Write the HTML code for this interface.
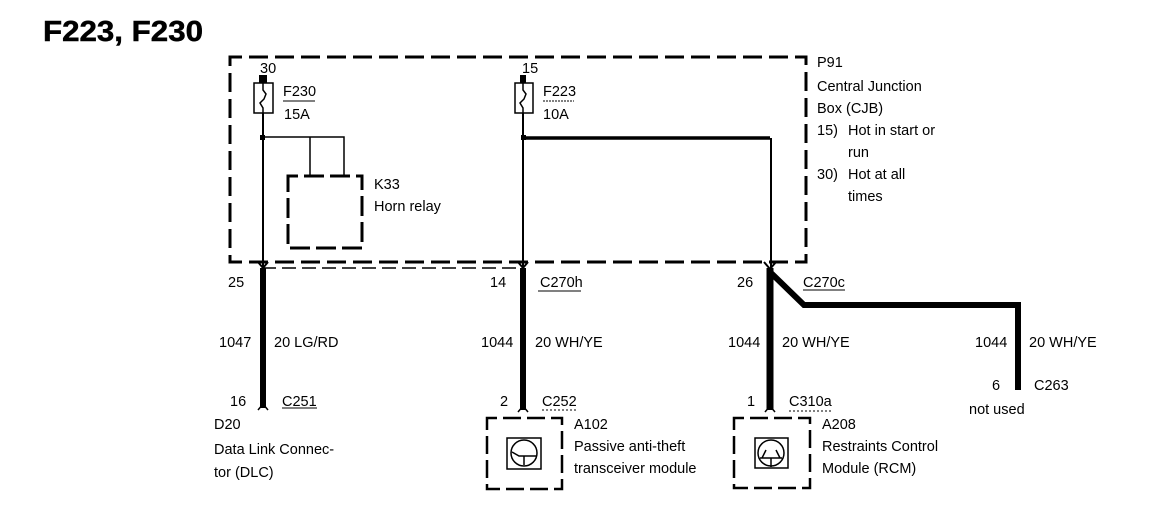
<!DOCTYPE html>
<html><head><meta charset="utf-8"><style>
html,body{margin:0;padding:0;background:#fff;width:1152px;height:520px;overflow:hidden}
svg{display:block}
text{font-family:"Liberation Sans",sans-serif;font-size:14.5px;fill:#000}
</style></head><body>
<svg width="1152" height="520" viewBox="0 0 1152 520" xmlns="http://www.w3.org/2000/svg">
<text x="43" y="41" textLength="160" lengthAdjust="spacingAndGlyphs" style="font-size:29px;font-weight:bold;stroke:#000;stroke-width:.5">F223, F230</text>
<g fill="none" stroke="#000">
<rect x="230" y="57" width="576" height="205" stroke-width="3" stroke-dasharray="19 7" stroke-dashoffset="7"/>
<path d="M262 268H523" stroke-width="1.5" stroke-dasharray="14 6"/>
<rect x="288" y="176" width="74" height="72" stroke-width="3" stroke-dasharray="20 6" stroke-dashoffset="10"/>
<rect x="487" y="418" width="75" height="71" stroke-width="2.5" stroke-dasharray="18 6" stroke-dashoffset="8"/>
<rect x="734" y="418" width="76" height="70" stroke-width="2.5" stroke-dasharray="18 6" stroke-dashoffset="8"/>
<rect x="254" y="83" width="19" height="30" stroke-width="1.5"/>
<rect x="515" y="83" width="18" height="30" stroke-width="1.5"/>
<path d="M263 113V268" stroke-width="2"/>
<path d="M523 113V268" stroke-width="2"/>
<path d="M263 137H344V176M310 137V176" stroke-width="1.5"/>
<path d="M523 138H770" stroke-width="3.5"/>
<path d="M771 138V268" stroke-width="2"/>
<path d="M263 268V408" stroke-width="6"/>
<path d="M523 268V410" stroke-width="6"/>
<path d="M770 268V410" stroke-width="7"/>
<path d="M770 272L804 305H1018V390" stroke-width="6"/>
<path d="M263 83V90L266 94L264 99L260 103L263 108V113" stroke-width="1.5"/>
<path d="M523 83V90L526 94L524 99L520 103L523 108V113" stroke-width="1.5"/>
<path d="M283 101H315" stroke-width="1"/>
<path d="M543 101H574" stroke-width="1" stroke-dasharray="2 1"/>
<path d="M538 291H581M282 408H317M803 290H845" stroke-width="1"/>
<path d="M542 410H576M789 411H832" stroke-width="1" stroke-dasharray="2 2"/>
<rect x="507" y="438" width="34" height="31" stroke-width="1.5"/>
<circle cx="524" cy="453" r="13" stroke-width="1.5"/>
<path d="M512 452L519 456H536M524 456V465" stroke-width="1.5"/>
<rect x="755" y="438" width="33" height="30" stroke-width="1.5"/>
<circle cx="771" cy="453" r="13" stroke-width="1.5"/>
<path d="M760 458H782M771 458V467M762 458L766 450M780 458L776 450" stroke-width="1.5"/>
<path d="M258 262L263 268L268 262M518 262L523 268L528 262M764 262L770 269L776 262" stroke-width="2"/>
<path d="M258 410L263 404L268 410M518 412L523 406L528 412M765 412L770 406L775 412" stroke-width="1.5"/>
</g>
<rect x="259" y="75" width="8" height="8"/>
<rect x="520" y="75" width="6" height="8"/>
<rect x="260" y="135" width="5" height="5"/>
<rect x="521" y="135" width="5" height="5"/>
<g transform="translate(0 1)">
<text x="260" y="72">30</text>
<text x="522" y="72">15</text>
<text x="283" y="95">F230</text>
<text x="284" y="118">15A</text>
<text x="543" y="95">F223</text>
<text x="543" y="118">10A</text>
<text x="374" y="188">K33</text>
<text x="374" y="210">Horn relay</text>
<text x="817" y="66">P91</text>
<text x="817" y="90">Central Junction</text>
<text x="817" y="112">Box (CJB)</text>
<text x="817" y="134">15)</text><text x="848" y="134">Hot in start or</text>
<text x="848" y="156">run</text>
<text x="817" y="178">30)</text><text x="848" y="178">Hot at all</text>
<text x="848" y="200">times</text>
<text x="228" y="286">25</text>
<text x="490" y="286">14</text>
<text x="737" y="286">26</text>
<text x="540" y="286">C270h</text>
<text x="803" y="286">C270c</text>
<text x="219" y="346">1047</text>
<text x="274" y="346">20 LG/RD</text>
<text x="481" y="346">1044</text>
<text x="535" y="346">20 WH/YE</text>
<text x="728" y="346">1044</text>
<text x="782" y="346">20 WH/YE</text>
<text x="975" y="346">1044</text>
<text x="1029" y="346">20 WH/YE</text>
<text x="230" y="405">16</text>
<text x="282" y="405">C251</text>
<text x="500" y="405">2</text>
<text x="542" y="405">C252</text>
<text x="747" y="405">1</text>
<text x="789" y="405">C310a</text>
<text x="992" y="389">6</text>
<text x="1034" y="389">C263</text>
<text x="969" y="413">not used</text>
<text x="214" y="428">D20</text>
<text x="214" y="453">Data Link Connec-</text>
<text x="214" y="476">tor (DLC)</text>
<text x="574" y="428">A102</text>
<text x="574" y="450">Passive anti-theft</text>
<text x="574" y="472">transceiver module</text>
<text x="822" y="428">A208</text>
<text x="822" y="450">Restraints Control</text>
<text x="822" y="472">Module (RCM)</text>
</g>
</svg>
</body></html>
